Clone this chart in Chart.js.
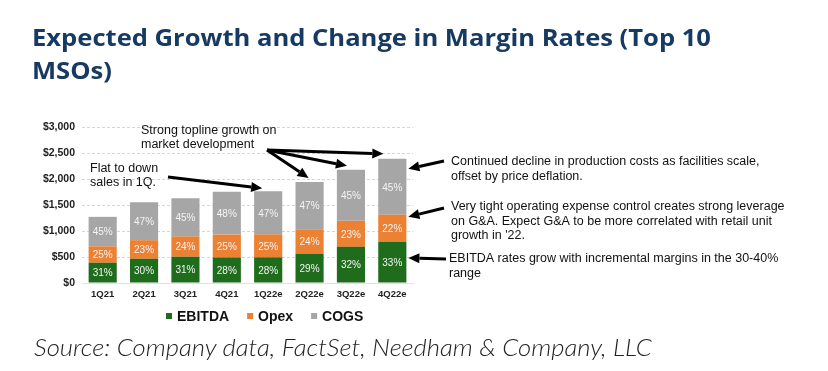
<!DOCTYPE html>
<html>
<head>
<meta charset="utf-8">
<script src="https://cdn.jsdelivr.net/npm/chart.js@4.4.0/dist/chart.umd.min.js"></script>
<style>
  html, body { margin: 0; padding: 0; background: #fff; }
  #wrap { position: relative; width: 828px; height: 371px; overflow: hidden; }
  #title { position: absolute; left: 32px; top: 21px; margin: 0; font-family: "Open Sans", sans-serif; font-weight: 700;
           font-size: 24px; line-height: 32.6px; color: #173a63; transform-origin: 0 0; white-space: nowrap; }
  #title span { display: inline-block; }
  #source { position: absolute; left: 34px; top: 333px; margin: 0; font-family: Lato, sans-serif; font-style: italic;
            font-weight: 300; font-size: 24px; line-height: 28.8px; color: #222; transform-origin: 0 0; white-space: nowrap; }
  canvas { position: absolute; left: 0; top: 0; }
</style>
</head>
<body>
<div id="wrap">
  <canvas id="chart" width="828" height="371"></canvas>
  <h1 id="title"><span id="t1">Expected Growth and Change in Margin Rates (Top 10</span><br><span>MSOs)</span></h1>
  <p id="source"><span id="s1">Source: Company data, FactSet, Needham &amp; Company, LLC</span></p>
</div>
<script>
// values in $M
const quarters = ['1Q21', '2Q21', '3Q21', '4Q21', '1Q22e', '2Q22e', '3Q22e', '4Q22e'];
const ebitda = [390, 466, 505, 492, 494, 564, 696, 788];
const opex   = [315, 357, 391, 439, 441, 467, 500, 525];
const cogs   = [567, 729, 733, 826, 829, 913, 980, 1075];
const ebitdaPct = ['31%', '30%', '31%', '28%', '28%', '29%', '32%', '33%'];
const opexPct   = ['25%', '23%', '24%', '25%', '25%', '24%', '23%', '22%'];
const cogsPct   = ['45%', '47%', '45%', '48%', '47%', '47%', '45%', '45%'];
const yTicks = [0, 500, 1000, 1500, 2000, 2500, 3000];

const notes = {
  topline: ['Strong topline growth on', 'market development'],
  flat: ['Flat to down', 'sales in 1Q.'],
  cogs: ['Continued decline in production costs as facilities scale,', 'offset by price deflation.'],
  opex: ['Very tight operating expense control creates strong leverage', 'on G&A. Expect G&A to be more correlated with retail unit', "growth in '22."],
  ebitda: ['EBITDA rates grow with incremental margins in the 30-40%', 'range']
};

// stretch title / source to the widths they have in the original image
function fit(boxId, lineId, target) {
  const w = document.getElementById(lineId).getBoundingClientRect().width;
  document.getElementById(boxId).style.transform = 'scaleX(' + (target / w) + ')';
}
fit('title', 't1', 679);
fit('source', 's1', 618);

function arrow(ctx, x1, y1, x2, y2) {
  const a = Math.atan2(y2 - y1, x2 - x1);
  const head = 11, half = 5;
  const bx = x2 - head * Math.cos(a), by = y2 - head * Math.sin(a);
  ctx.beginPath();
  ctx.moveTo(x1, y1);
  ctx.lineTo(bx, by);
  ctx.lineWidth = 3;
  ctx.strokeStyle = '#000';
  ctx.stroke();
  ctx.beginPath();
  ctx.moveTo(x2, y2);
  ctx.lineTo(bx + half * Math.sin(a), by - half * Math.cos(a));
  ctx.lineTo(bx - half * Math.sin(a), by + half * Math.cos(a));
  ctx.closePath();
  ctx.fillStyle = '#000';
  ctx.fill();
}

function lines(ctx, arr, x, y, lh) {
  arr.forEach((t, i) => ctx.fillText(t, x, y + i * lh));
}

const extras = {
  id: 'extras',
  afterDatasetsDraw(chart) {
    const ctx = chart.ctx;
    const pcts = [ebitdaPct, opexPct, cogsPct];
    ctx.save();
    ctx.font = '10px "Liberation Sans", Arial, sans-serif';
    ctx.fillStyle = '#f4f4f4';
    ctx.textAlign = 'center';
    ctx.textBaseline = 'middle';
    chart.data.datasets.forEach((ds, di) => {
      chart.getDatasetMeta(di).data.forEach((bar, i) => {
        ctx.fillText(pcts[di][i], bar.x, (bar.y + bar.base) / 2 + 1);
      });
    });
    ctx.restore();
  },
  afterDraw(chart) {
    const ctx = chart.ctx;
    const xs = chart.scales.x, ys = chart.scales.y;
    const total = i => ebitda[i] + opex[i] + cogs[i];
    const last = quarters.length - 1;
    const lastBar = chart.getDatasetMeta(0).data[last];
    const barRight = lastBar.x + lastBar.width / 2;
    ctx.save();

    // legend
    ctx.font = 'bold 14px "Liberation Sans", Arial, sans-serif';
    ctx.textBaseline = 'middle';
    ctx.textAlign = 'left';
    let lx = 166;
    const ly = 316;
    chart.data.datasets.forEach(ds => {
      ctx.fillStyle = ds.backgroundColor;
      ctx.fillRect(lx, ly - 3, 6, 6);
      ctx.fillStyle = '#111';
      ctx.fillText(ds.label, lx + 11, ly + 1);
      lx += 11 + ctx.measureText(ds.label).width + 18;
    });

    // annotations
    ctx.font = '12.5px "Liberation Sans", Arial, sans-serif';
    ctx.fillStyle = '#111';
    ctx.textBaseline = 'middle';
    lines(ctx, notes.topline, 141, 131, 14);
    lines(ctx, notes.flat, 90, 169, 14);
    lines(ctx, notes.cogs, 451, 162, 14.5);
    lines(ctx, notes.opex, 451, 207, 14.5);
    lines(ctx, notes.ebitda, 449, 259, 14.5);

    arrow(ctx, 267, 150, xs.getPixelForValue(5) - 1, ys.getPixelForValue(total(5)) - 4);
    arrow(ctx, 267, 150, xs.getPixelForValue(6) - 4, ys.getPixelForValue(total(6)) - 4);
    arrow(ctx, 267, 150, xs.getPixelForValue(7) - 9, ys.getPixelForValue(total(7)) - 5);
    arrow(ctx, 168, 177, xs.getPixelForValue(4) - 6, ys.getPixelForValue(total(4)) - 3);

    arrow(ctx, 444, 161, barRight + 2, ys.getPixelForValue(total(last)) + 10);
    arrow(ctx, 444, 208, barRight + 2, ys.getPixelForValue(ebitda[last] + opex[last]) + 2);
    arrow(ctx, 446, 259, barRight + 2, ys.getPixelForValue(ebitda[last]) + 16);
    ctx.restore();
  }
};

new Chart(document.getElementById('chart'), {
  type: 'bar',
  data: {
    labels: quarters,
    datasets: [
      { label: 'EBITDA', data: ebitda, backgroundColor: '#1f6d1c' },
      { label: 'Opex', data: opex, backgroundColor: '#ec8134' },
      { label: 'COGS', data: cogs, backgroundColor: '#a6a6a6' }
    ]
  },
  options: {
    responsive: false,
    animation: false,
    layout: { padding: { left: 0, right: 415, top: 127, bottom: 62 } },
    datasets: { bar: { categoryPercentage: 1, barPercentage: 0.68 } },
    plugins: { legend: { display: false }, tooltip: { enabled: false } },
    scales: {
      x: {
        stacked: true,
        grid: { display: false, drawTicks: false },
        border: { color: '#e2e2e2' },
        ticks: { color: '#222', maxRotation: 0, font: { family: '"Liberation Sans", Arial', size: 9.5, weight: 'bold' }, padding: 6 },
        afterFit: s => { s.height = 26; }
      },
      y: {
        stacked: true,
        min: 0, max: 3000,
        afterBuildTicks: s => { s.ticks = yTicks.map(v => ({ value: v })); },
        grid: { color: '#d6d6d6', drawTicks: false },
        border: { display: false, dash: [3, 2] },
        ticks: {
          color: '#222', padding: 7,
          font: { family: '"Liberation Sans", Arial', size: 10.5, weight: 'bold' },
          callback: v => '$' + v.toLocaleString('en-US')
        },
        afterFit: s => { s.width = 82; }
      }
    }
  },
  plugins: [extras]
});
</script>
</body>
</html>
